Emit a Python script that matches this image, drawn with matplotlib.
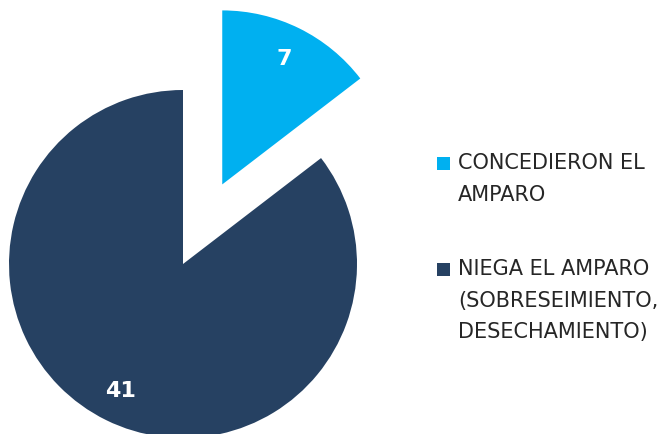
import matplotlib
matplotlib.use('Agg')
import matplotlib.pyplot as plt
from matplotlib.patches import Rectangle

# datos
categorias = ['CONCEDIERON EL\nAMPARO',
              'NIEGA EL AMPARO\n(SOBRESEIMIENTO,\nDESECHAMIENTO)']
valores = [7, 41]
colores = ['#00B0F0', '#264162']
separacion = [0.51, 0]

W, H = 665, 435
fig = plt.figure(figsize=(W / 100, H / 100), dpi=100)
ax = fig.add_axes([0, 0, 1, 1])

total = sum(valores)
wedges, _, autotexts = ax.pie(
    valores, colors=colores, explode=separacion, startangle=90,
    counterclock=False, radius=1.0,
    autopct=lambda p: f'{p * total / 100:.0f}', pctdistance=0.81,
    wedgeprops=dict(linewidth=0),
    textprops=dict(color='white', fontsize=16, fontweight='bold'))

# radio en pixeles y centro del pastel
r_px = 174
cx, cy = 183, 265
ax.set_xlim(-cx / r_px, (W - cx) / r_px)
ax.set_ylim(-(H - cy) / r_px, cy / r_px)
ax.set_aspect('auto')
ax.axis('off')

# leyenda a mano: cuadro alineado con la primera linea
leyenda_y = [157, 263]
for color, texto, y in zip(colores, categorias, leyenda_y):
    fig.add_artist(Rectangle((437 / W, 1 - (y + 14) / H), 13 / W, 13 / H,
                             transform=fig.transFigure, color=color, lw=0))
    fig.text(458 / W, 1 - (y - 4) / H, texto, fontsize=15, color='#262626',
             va='top', ha='left', linespacing=1.72)

fig.savefig('out.png', dpi=100, facecolor='white')
